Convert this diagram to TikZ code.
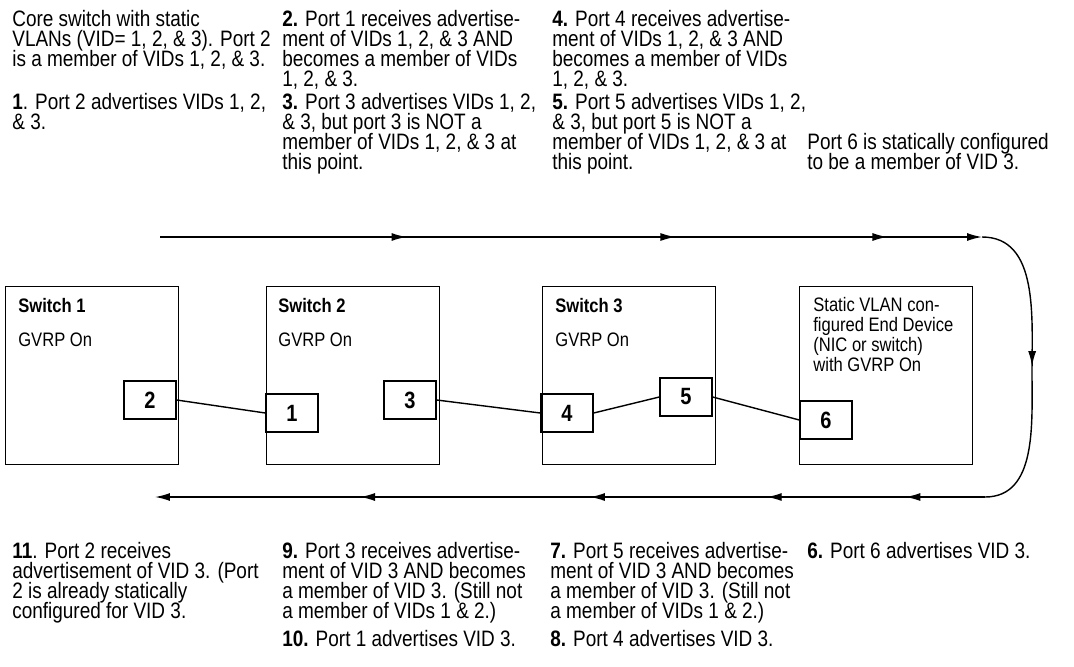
\documentclass[tikz,border=0pt]{standalone}
\usepackage{fontspec}
\setmainfont{Liberation Sans}[FakeStretch=0.85]
\usetikzlibrary{arrows.meta,decorations.markings}
\setlength{\lineskiplimit}{-20pt}

\tikzset{
  txt/.style={anchor=north west,inner sep=0pt,align=left,font=\fontsize{12.7}{11.4}\selectfont},
  swbox/.style={draw,line width=0.8pt,anchor=north west,inner sep=0pt,minimum width=3.46cm,minimum height=3.56cm},
  port/.style={draw,line width=0.8pt,inner sep=0pt,minimum width=1.04cm,minimum height=0.76cm,font=\fontsize{13.4}{13.4}\selectfont\bfseries},
  lbl/.style={anchor=west,inner sep=0pt,font=\fontsize{11.1}{11.1}\selectfont},
  link/.style={line width=0.8pt},
  flow/.style={line width=0.8pt,->},
}

\begin{document}
\begin{tikzpicture}[x=0.02cm,y=-0.02cm,>={Latex[length=3mm,width=1.6mm]}]
\useasboundingbox (0,0) rectangle (1074,666);

%top texts
\node[txt] (a1) at (12,10) {Core switch with static\\VLANs (VID= 1, 2, \& 3). Port 2\\is a member of VIDs 1, 2, \& 3.};
\node[txt] (a2) at (12,93) {\textbf{1}. Port 2 advertises VIDs 1, 2,\\\& 3.};
\node[txt] (b1) at (282,10) {\textbf{2.} Port 1 receives advertise-\\ment of VIDs 1, 2, \& 3 AND\\becomes a member of VIDs\\1, 2, \& 3.};
\node[txt] (b2) at (282,93) {\textbf{3.} Port 3 advertises VIDs 1, 2,\\\& 3, but port 3 is NOT a\\member of VIDs 1, 2, \& 3 at\\this point.};
\node[txt] (c1) at (552,10) {\textbf{4.} Port 4 receives advertise-\\ment of VIDs 1, 2, \& 3 AND\\becomes a member of VIDs\\1, 2, \& 3.};
\node[txt] (c2) at (552,93) {\textbf{5.} Port 5 advertises VIDs 1, 2,\\\& 3, but port 5 is NOT a\\member of VIDs 1, 2, \& 3 at\\this point.};
\node[txt] (d1) at (807,133) {Port 6 is statically configured\\to be a member of VID 3.};

%switches
\node[swbox] (sw1) at (5,286) {};
\node[swbox] (sw2) at (266,286) {};
\node[swbox] (sw3) at (542,286) {};
\node[swbox] (dev) at (799,286) {};
\node[lbl,font=\fontsize{11.1}{11.1}\selectfont\bfseries] (sw1t) at (18,306) {Switch 1};
\node[lbl] (sw1g) at (18,340) {GVRP On};
\node[lbl,font=\fontsize{11.1}{11.1}\selectfont\bfseries] (sw2t) at (278,306) {Switch 2};
\node[lbl] (sw2g) at (278,340) {GVRP On};
\node[lbl,font=\fontsize{11.1}{11.1}\selectfont\bfseries] (sw3t) at (555,306) {Switch 3};
\node[lbl] (sw3g) at (555,340) {GVRP On};
\node[txt,font=\fontsize{11.1}{11.4}\selectfont] (devt) at (813,297) {Static VLAN con-\\figured End Device\\(NIC or switch)\\with GVRP On};

%ports
\node[port] (p2) at (150,400) {2};
\node[port] (p1) at (292,413) {1};
\node[port] (p3) at (410,400) {3};
\node[port] (p4) at (567,413) {4};
\node[port] (p5) at (686,397) {5};
\node[port] (p6) at (826,420) {6};
\draw[link] (p2.east) -- (p1.west);
\draw[link] (p3.east) -- (p4.west);
\draw[link] (p4.east) -- (p5.west);
\draw[link] (p5.east) -- (p6.west);

%flow arrows
\coordinate (tl) at (160,237);
\coordinate (tr) at (982,237);
\coordinate (rm) at (1032,373);
\coordinate (br) at (985,497);
\coordinate (bl) at (155,497);
\draw[flow,postaction={decorate},decoration={markings,
  mark=at position 0.3 with {\arrow{>}},
  mark=at position 0.627 with {\arrow{>}},
  mark=at position 0.885 with {\arrow{>}}}] (tl) -- (tr);
\draw[link,postaction={decorate},decoration={markings,
  mark=at position 0.5 with {\arrow{>}}}] (tr) to[out=0,in=90] (rm) to[out=-90,in=0] (br);
\draw[flow,postaction={decorate},decoration={markings,
  mark=at position 0.096 with {\arrow{>}},
  mark=at position 0.263 with {\arrow{>}},
  mark=at position 0.476 with {\arrow{>}},
  mark=at position 0.753 with {\arrow{>}}}] (br) -- (bl);

%bottom texts
\node[txt] (e1) at (12,542) {\textbf{11}. Port 2 receives\\advertisement of VID 3. (Port\\2 is already statically\\configured for VID 3.};
\node[txt] (f1) at (282,542) {\textbf{9.} Port 3 receives advertise-\\ment of VID 3 AND becomes\\a member of VID 3. (Still not\\a member of VIDs 1 \& 2.)};
\node[txt] (f2) at (282,630) {\textbf{10.} Port 1 advertises VID 3.};
\node[txt] (g1) at (550,542) {\textbf{7.} Port 5 receives advertise-\\ment of VID 3 AND becomes\\a member of VID 3. (Still not\\a member of VIDs 1 \& 2.)};
\node[txt] (g2) at (550,630) {\textbf{8.} Port 4 advertises VID 3.};
\node[txt] (h1) at (807,542) {\textbf{6.} Port 6 advertises VID 3.};
\end{tikzpicture}
\end{document}
